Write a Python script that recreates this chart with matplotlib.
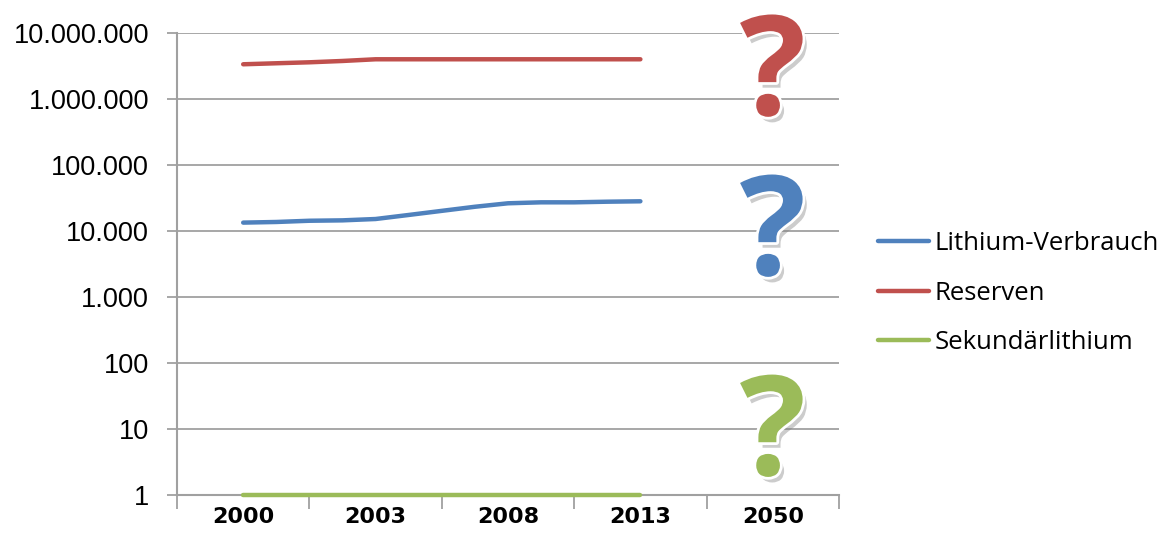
import matplotlib
matplotlib.use("Agg")
import matplotlib.pyplot as plt
import matplotlib.patheffects as pe
from matplotlib.ticker import FixedLocator, FuncFormatter
import numpy as np

# Category axis
categories = ["2000", "2003", "2008", "2013", "2050"]

# Sampled series between 2000 and 2013 (tonnes, log scale)
verbrauch = [13400, 13700, 14300, 14500, 15200, 17500, 20200, 23300,
             26300, 27200, 27200, 27800, 28200]
reserven = [3360000, 3480000, 3600000, 3770000, 4000000, 4000000, 4000000,
            4000000, 4000000, 4000000, 4000000, 4000000, 4000000]
sekundaer = [1] * 13

series_names = ["Lithium-Verbrauch", "Reserven", "Sekundärlithium"]
series_colors = ["#4f81bd", "#c0504d", "#9bbb59"]
# Baseline of the open question for 2050, per series
question_levels = [2150, 572000, 2.0]

y_ticks = [1, 10, 100, 1000, 10000, 100000, 1000000, 10000000]

fig = plt.figure(figsize=(11.69, 5.53), dpi=100)
ax = fig.add_axes([0.1514, 0.1049, 0.7177 - 0.1514, 0.9403 - 0.1049])

x_pos = np.linspace(0, 3, len(verbrauch))
for vals, name, col in zip([verbrauch, reserven, sekundaer], series_names, series_colors):
    ax.plot(x_pos, vals, color=col, lw=3.2, solid_capstyle="round", label=name,
            zorder=4, clip_on=False)

ax.set_yscale("log")
ax.set_ylim(1, 10000000)
ax.set_xlim(-0.5, len(categories) - 0.5)

ax.yaxis.set_major_locator(FixedLocator(y_ticks))
ax.yaxis.set_minor_locator(FixedLocator([]))
ax.yaxis.set_major_formatter(FuncFormatter(lambda v, p: f"{int(round(v)):,}".replace(",", ".")))
ax.grid(axis="y", color="#a0a0a0", lw=1.3)
ax.set_axisbelow(True)

ax.set_xticks(range(len(categories)))
ax.set_xticklabels(categories, fontsize=16, fontweight="bold", family="DejaVu Sans")
ax.tick_params(axis="x", which="major", length=0, pad=9)
ax.set_xticks(np.arange(-0.5, len(categories)), minor=True)
ax.tick_params(axis="x", which="minor", length=10, color="#a0a0a0", width=1.3)
ax.tick_params(axis="y", which="major", length=7, color="#a0a0a0", width=1.3,
               labelsize=19.5, pad=13)
for lab in ax.get_yticklabels():
    lab.set_family("Liberation Sans")

for s in ["top", "right"]:
    ax.spines[s].set_visible(False)
for s in ["left", "bottom"]:
    ax.spines[s].set_color("#a0a0a0")
    ax.spines[s].set_linewidth(1.5)

# Question marks at 2050
effects = [pe.SimplePatchShadow(offset=(3, -4), shadow_rgbFace="#808080", alpha=0.4),
           pe.Stroke(linewidth=4, foreground="white"), pe.Normal()]
for lvl, col in zip(question_levels, series_colors):
    ax.text(4, lvl, "?", color=col, fontsize=100, fontweight="bold", family="Open Sans",
            ha="center", va="baseline", path_effects=effects, zorder=5)

leg = ax.legend(loc="center left", bbox_to_anchor=(1.059, 0.437), frameon=False,
                prop={"family": "Open Sans", "size": 18.5}, handlelength=2.0,
                handletextpad=0.2, labelspacing=0.95, borderpad=0, borderaxespad=0)

fig.savefig("out.png", dpi=100)
